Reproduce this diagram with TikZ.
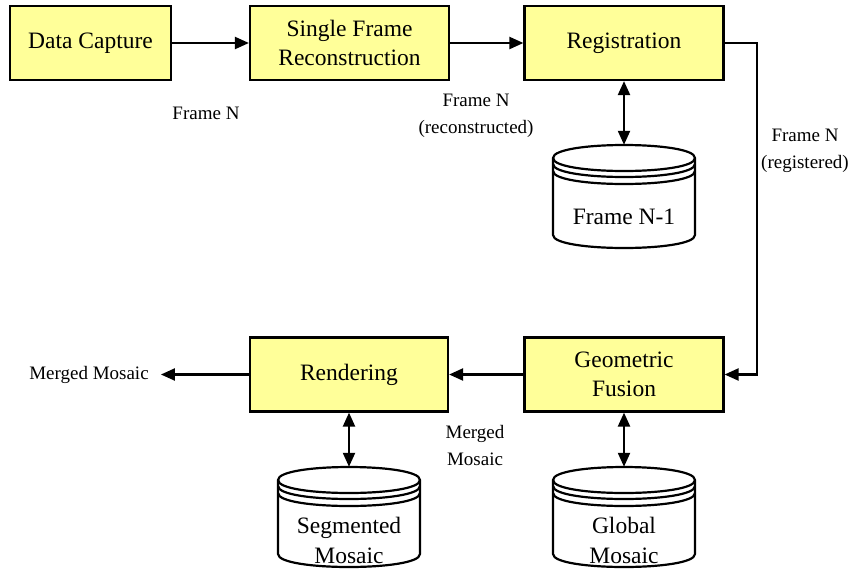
\documentclass[tikz,border=0pt]{standalone}
\usepackage{fontspec}
\setmainfont{Liberation Serif}
\newfontfamily\timesfam{Liberation Serif}
\usetikzlibrary{arrows.meta}
\definecolor{boxfill}{RGB}{255,255,153}
\newcommand\dbstack[3]{%
  \filldraw[cylbody] (#1-71,#2+13) -- (#1-71,#3-13)
     .. controls (#1-71,#3+4.33) and (#1+71,#3+4.33) .. (#1+71,#3-13)
     -- (#1+71,#2+13)
     .. controls (#1+71,#2-4.33) and (#1-71,#2-4.33) .. cycle;
  \draw[cylline] (#1-71,#2+13) .. controls (#1-71,#2+30.33) and (#1+71,#2+30.33) .. (#1+71,#2+13);
  \draw[cylline] (#1-71,#2+19) .. controls (#1-71,#2+36.33) and (#1+71,#2+36.33) .. (#1+71,#2+19);
  \draw[cylline] (#1-71,#2+26) .. controls (#1-71,#2+43.33) and (#1+71,#2+43.33) .. (#1+71,#2+26);
}
\begin{document}
\begin{tikzpicture}[x=1pt,y=-1pt,
  proc/.style={draw, line width=2.2pt, fill=boxfill, minimum height=74pt,
     align=center, inner sep=0pt, font=\timesfam\fontsize{23.5}{29}\selectfont},
  lbl/.style={align=center, inner sep=0pt, font=\timesfam\fontsize{19}{27}\selectfont},
  cyltext/.style={align=center, inner sep=0pt, font=\timesfam\fontsize{23.5}{30}\selectfont},
  cylslot/.style={minimum width=142pt, inner sep=0pt, draw=none},
  cylbody/.style={draw, line width=2.2pt, fill=white, line join=round},
  cylline/.style={line width=2.2pt},
  flow/.style={line width=2.2pt, -{Triangle[length=14pt,width=12pt]}},
  both/.style={line width=2.2pt, {Triangle[length=14pt,width=12pt]}-{Triangle[length=14pt,width=12pt]}},
]
\useasboundingbox (0,0) rectangle (850,570);

% process boxes
\node[proc, minimum width=161pt] (dc) at (90.5,43) {Data Capture};
\node[proc, minimum width=199pt] (sfr) at (349.5,43) {Single Frame\\Reconstruction};
\node[proc, minimum width=199pt] (reg) at (624,43) {Registration};
\node[proc, minimum width=199pt] (gf) at (624,374.5) {Geometric\\Fusion};
\node[proc, minimum width=198pt] (ren) at (349,374.5) {Rendering};

% databases
\dbstack{624}{145}{248}
\node[cylslot, minimum height=103pt] (fn1) at (624,196.5) {};
\node[cyltext] (fn1t) at (624,217) {Frame N-1};

\dbstack{624}{467}{567}
\node[cylslot, minimum height=100pt] (glob) at (624,517) {};
\node[cyltext] (globt) at (624,540) {Global\\Mosaic};

\dbstack{349}{467}{567}
\node[cylslot, minimum height=100pt] (seg) at (349,517) {};
\node[cyltext] (segt) at (349,540) {Segmented\\Mosaic};

% labels
\node[lbl] (l1) at (206,113) {Frame N};
\node[lbl] (l2) at (476,116) {Frame N\\(reconstructed)};
\node[lbl] (l3) at (805,151) {Frame N\\(registered)};
\node[lbl] (l4) at (475,445) {Merged\\Mosaic};
\node[lbl] (mm) at (89,374.5) {Merged Mosaic};

% connectors
\draw[flow] (dc.east) -- (sfr.west);
\draw[flow] (sfr.east) -- (reg.west);
\draw[both] (reg.south) -- (fn1.north);
\draw[flow] (reg.east) -- ++(32,0) |- (gf.east);
\draw[flow] (gf.west) -- (ren.east);
\draw[both] (gf.south) -- (glob.north);
\draw[both] (ren.south) -- (seg.north);
\draw[flow] (ren.west) -- ([xshift=12pt]mm.east);
\end{tikzpicture}
\end{document}
